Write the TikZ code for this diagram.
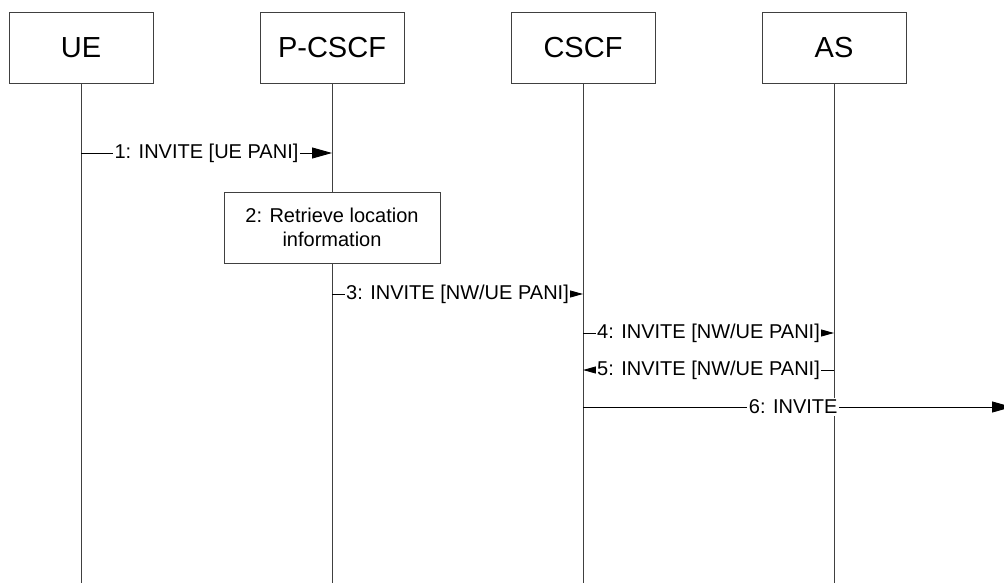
\documentclass[tikz,border=0pt]{standalone}
\usepackage{fontspec}
\setmainfont{Liberation Sans}
\usetikzlibrary{arrows.meta}
\begin{document}
\begin{tikzpicture}[x=1pt,y=-1pt,
  entity/.style={draw=black!75,line width=0.9pt,fill=white,minimum width=144pt,minimum height=71pt,inner sep=0pt,font=\fontsize{29}{34}\selectfont},
  action/.style={draw=black!75,line width=0.9pt,fill=white,minimum width=216pt,minimum height=71pt,inner sep=0pt,align=center,font=\fontsize{20}{24.5}\selectfont},
  lifeline/.style={draw=black!75,line width=0.9pt},
  msg/.style={draw=black,line width=0.9pt,-{Triangle[length=13pt,width=7pt]}},
  bigmsg/.style={draw=black,line width=0.9pt,-{Triangle[length=20pt,width=11pt]}},
  lbl/.style={fill=white,inner sep=1.5pt,font=\fontsize{20}{24}\selectfont}]
  \useasboundingbox (0,0) rectangle (1004,583);

  % participants
  \node[entity] (ue)    at (81,47.5)  {UE};
  \node[entity] (pcscf) at (332,47.5) {P-CSCF};
  \node[entity] (cscf)  at (583,47.5) {CSCF};
  \node[entity] (as)    at (834,47.5) {AS};

  % lifeline end points
  \coordinate (ueEnd)    at (81,583);
  \coordinate (pcscfEnd) at (332,583);
  \coordinate (cscfEnd)  at (583,583);
  \coordinate (asEnd)    at (834,583);

  \draw[lifeline] (ue.south) -- (ueEnd);
  \draw[lifeline] (pcscf.south) -- (pcscfEnd);
  \draw[lifeline] (cscf.south) -- (cscfEnd);
  \draw[lifeline] (as.south) -- (asEnd);

  % message anchors on the lifelines
  \coordinate (m1a) at (81,153);   \coordinate (m1b) at (332,153);
  \coordinate (m3a) at (332,294);  \coordinate (m3b) at (583,294);
  \coordinate (m4a) at (583,333);  \coordinate (m4b) at (834,333);
  \coordinate (m5a) at (834,370);  \coordinate (m5b) at (583,370);
  \coordinate (m6a) at (583,407);  \coordinate (m6b) at (1012,407);

  % local action at the P-CSCF
  \node[action] (retr) at (332,227.5) {2: Retrieve location\\information};

  % messages
  \draw[bigmsg] (m1a) -- node[lbl] {1: INVITE [UE PANI]} (m1b);
  \draw[msg] (m3a) -- node[lbl] {3: INVITE [NW/UE PANI]} (m3b);
  \draw[msg] (m4a) -- node[lbl] {4: INVITE [NW/UE PANI]} (m4b);
  \draw[msg] (m5a) -- node[lbl] {5: INVITE [NW/UE PANI]} (m5b);
  \draw[bigmsg] (m6a) -- node[lbl,pos=0.49] {6: INVITE} (m6b);
\end{tikzpicture}
\end{document}
